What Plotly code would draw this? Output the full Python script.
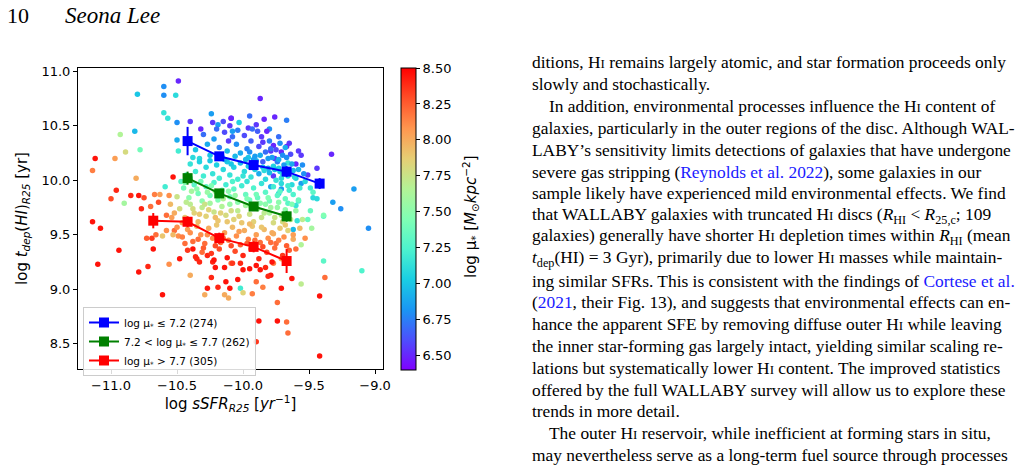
import plotly.graph_objects as go

# ---------------- data ----------------
# scatter galaxies: log sSFR_R25, log t_dep(HI)_R25, log mu_*
sc_x = [
    -10.49, -10.60, -10.60, -10.51, -10.80, -10.60, -10.57, -10.50, -10.40, -10.32, -10.24, -10.23, -10.19, -10.15, -10.09,
    -10.82, -10.93, -10.89, -10.78, -10.97, -11.12, -11.14, -10.81, -10.50, -10.49, -10.53, -10.96, -11.00, -10.90, -10.85,
    -10.79, -10.75, -10.67, -10.63, -10.59, -10.56, -10.70, -10.64, -10.77, -10.58,
    -11.14, -11.08, -10.94, -11.10, -10.79, -10.72, -10.61, -10.73, -10.69, -10.66, -10.61, -10.58, -10.52, -10.49, -10.53,
    -10.68, -10.48, -10.56, -10.40, -10.35, -10.38, -10.31, -10.27, -10.23, -10.21, -10.24, -10.27, -10.29, -10.19, -10.13,
    -10.14, -10.14, -10.11, -10.02, -10.00,
    -9.05, -9.56, -9.39, -9.10, -9.38, -9.63, -9.56, -9.71, -9.42, -9.74, -9.88, -9.74, -9.67, -9.66, -9.90, -9.42,
    -9.62, -9.59, -9.48, -9.51, -9.39, -9.79, -9.85, -9.81, -9.93, -10.04, -10.10, -10.00, -9.95, -9.87, -9.90, -10.09,
    -9.77, -9.71,
    -9.87, -10.09, -9.95, -9.84, -9.76, -9.67, -10.03, -9.90, -9.96, -9.89, -9.80, -10.08, -10.11, -9.85, -9.77, -9.72,
    -9.65, -9.67, -9.58, -9.71, -9.79, -9.56, -9.33, -9.66, -9.60, -9.55, -9.44, -9.51, -9.54, -9.60, -9.56, -9.63,
    -9.49, -9.47, -9.44, -9.47, -9.32, -9.26, -9.16, -9.60, -9.58, -9.49, -9.39, -9.66, -9.73, -9.71, -9.79, -9.77,
    -9.71, -9.81, -9.73, -9.76,
    # dense core
    -10.30, -10.27, -10.22, -10.18, -10.14, -10.12, -10.08, -10.05, -10.02, -9.99, -9.97, -9.94, -9.91, -9.88, -9.86,
    -9.83, -9.80, -9.78, -9.75, -9.73, -9.70, -9.68, -9.64, -10.25, -10.20, -10.10, -10.04, -9.93, -9.82, -9.96,
    -10.16, -9.90, -9.85, -9.74, -10.36, -10.33,
    -10.40, -10.36, -10.33, -10.30, -10.28, -10.25, -10.23, -10.20, -10.18, -10.15, -10.12, -10.10, -10.07, -10.04,
    -10.02, -9.99, -9.96, -9.94, -9.91, -9.88, -9.85, -9.83, -9.80, -9.77, -9.75, -9.72, -9.69, -9.66, -9.62, -10.43,
    -10.38, -10.14, -9.92,
    -10.45, -10.41, -10.37, -10.34, -10.31, -10.28, -10.25, -10.22, -10.19, -10.16, -10.13, -10.10, -10.07, -10.04,
    -10.01, -9.98, -9.95, -9.92, -9.89, -9.86, -9.83, -9.80, -9.77, -9.74, -9.71, -9.68, -9.65, -10.47, -10.39, -10.21,
    -9.97, -10.08,
    -10.48, -10.44, -10.40, -10.37, -10.34, -10.31, -10.28, -10.25, -10.22, -10.19, -10.16, -10.13, -10.10, -10.07,
    -10.04, -10.01, -9.98, -9.95, -9.92, -9.89, -9.86, -9.83, -9.80, -9.77, -9.74, -9.71, -9.68, -9.64, -10.52, -10.55,
    -10.46,
    -10.50, -10.46, -10.42, -10.38, -10.35, -10.32, -10.29, -10.26, -10.23, -10.20, -10.17, -10.14, -10.11, -10.08,
    -10.05, -10.02, -9.99, -9.96, -9.93, -9.90, -9.87, -9.84, -9.81, -9.78, -9.75, -9.72, -9.69, -9.66, -9.62,
    -10.42, -10.36, -10.30, -10.24, -10.18, -10.12, -10.06, -10.00, -9.94, -9.88, -9.82, -9.76, -9.70, -9.65, -9.90,
    -10.08, -9.78,
    # extra core galaxies
    -9.98, -9.95, -9.92, -9.87, -9.84, -9.81, -9.79, -9.76, -9.73, -9.70, -9.67, -9.63, -9.61, -9.58, -9.66, -9.72,
    -9.62, -9.57, -9.53, -10.06, -10.09, -10.00,
    -10.44, -10.40, -10.35, -10.32, -10.27, -10.24, -10.19, -10.15, -10.11, -10.06, -10.43, -10.38, -10.33, -10.29,
    -10.26, -10.21, -10.17, -10.12, -10.09, -10.03, -10.50, -10.54,
    -9.97, -9.94, -9.90, -9.87, -9.84, -9.81, -9.79, -9.76, -9.73, -9.70, -9.67, -9.63, -9.60, -9.58, -9.55, -9.95,
    -9.86, -9.77, -9.68, -9.62, -9.57, -9.53,
    -10.44, -10.40, -10.34, -10.27, -10.21, -10.15, -10.09, -10.03, -9.97, -9.91, -9.85, -9.79, -9.73, -9.67, -9.60,
    -10.33, -10.22, -10.02, -9.83,
]
sc_y = [
    10.91, 10.86, 10.78, 10.78, 10.79, 10.62, 10.57, 10.53, 10.54, 10.47, 10.61, 10.53, 10.51, 10.54, 10.57,
    10.45, 10.42, 10.26, 10.28, 10.20, 10.20, 10.09, 10.02, 10.37, 10.27, 10.03, 9.91, 9.83, 9.79, 9.86,
    9.86, 9.84, 9.87, 9.87, 9.94, 9.86, 9.76, 9.80, 9.74, 9.68,
    9.62, 9.56, 9.36, 9.23, 9.16, 9.21, 8.95, 9.47, 9.47, 9.50, 9.49, 9.54, 9.54, 9.49, 9.50,
    9.37, 9.28, 9.23, 9.13, 9.28, 9.37, 9.34, 9.31, 9.25, 9.20, 9.11, 9.01, 8.95, 9.02, 9.07,
    9.20, 8.95, 8.92, 9.01, 8.97,
    9.56, 9.41, 9.26, 9.17, 9.11, 9.10, 9.05, 9.01, 8.94, 8.88, 8.71, 8.71, 8.70, 8.60, 8.52, 8.39,
    9.55, 9.63, 9.56, 9.64, 9.67, 9.13, 9.02, 9.12, 8.96, 9.09, 9.01, 9.18, 9.19, 9.18, 9.07, 9.24,
    9.24, 9.28,
    10.75, 10.57, 10.59, 10.56, 10.58, 10.55, 10.53, 10.51, 10.48, 10.45, 10.47, 10.45, 10.36, 10.35, 10.32, 10.34,
    10.34, 10.31, 10.27, 10.26, 10.27, 10.23, 10.24, 10.16, 10.15, 10.14, 10.11, 10.05, 10.06, 10.02, 9.97, 9.96,
    9.93, 9.84, 9.83, 9.89, 9.80, 9.74, 9.92, 9.77, 9.81, 9.72, 9.68, 9.79, 9.88, 9.92, 9.94, 10.04,
    10.02, 10.11, 10.11, 10.20,
    # dense core
    10.42, 10.33, 10.38, 10.30, 10.44, 10.27, 10.40, 10.33, 10.25, 10.41, 10.29, 10.36, 10.22, 10.31, 10.40,
    10.26, 10.36, 10.21, 10.28, 10.40, 10.23, 10.30, 10.24, 10.23, 10.47, 10.50, 10.46, 10.47, 10.45, 10.21,
    10.22, 10.18, 10.17, 10.17, 10.28, 10.20,
    10.15, 10.08, 10.17, 10.04, 10.12, 10.18, 10.06, 10.14, 10.02, 10.10, 10.17, 10.05, 10.12, 10.01,
    10.16, 10.08, 10.13, 10.03, 10.10, 10.06, 10.12, 10.01, 10.07, 10.13, 10.00, 10.08, 10.14, 10.04, 10.09, 10.05,
    10.21, 10.19, 10.19,
    9.93, 9.84, 9.96, 9.88, 9.81, 9.94, 9.86, 9.98, 9.82, 9.91, 9.96, 9.85, 9.92, 9.80,
    9.95, 9.87, 9.82, 9.93, 9.84, 9.97, 9.89, 9.81, 9.94, 9.86, 9.97, 9.83, 9.91, 9.99, 9.90, 9.90,
    9.99, 9.99,
    9.74, 9.66, 9.78, 9.70, 9.62, 9.75, 9.67, 9.79, 9.71, 9.63, 9.76, 9.68, 9.78, 9.64,
    9.72, 9.61, 9.77, 9.69, 9.62, 9.74, 9.66, 9.78, 9.70, 9.61, 9.75, 9.68, 9.73, 9.64, 9.70, 9.78,
    9.61,
    9.57, 9.48, 9.55, 9.44, 9.58, 9.50, 9.42, 9.56, 9.47, 9.59, 9.43, 9.52, 9.45, 9.57,
    9.49, 9.41, 9.54, 9.46, 9.58, 9.50, 9.43, 9.55, 9.47, 9.52, 9.42, 9.56, 9.48, 9.54, 9.46,
    9.36, 9.30, 9.38, 9.33, 9.37, 9.29, 9.35, 9.31, 9.37, 9.28, 9.34, 9.38, 9.31, 9.36, 9.22,
    9.24, 9.25,
    # extra core galaxies
    10.19, 10.26, 10.12, 10.23, 10.09, 10.20, 10.29, 10.10, 10.19, 10.05, 10.21, 10.15, 10.03, 10.10, 9.95, 9.90,
    9.87, 9.93, 9.99, 10.22, 10.15, 10.04,
    9.98, 10.02, 9.92, 9.99, 9.89, 9.95, 9.87, 9.83, 9.90, 9.86, 9.80, 9.74, 9.69, 9.78,
    9.73, 9.66, 9.70, 9.62, 9.72, 9.67, 9.85, 9.66,
    9.83, 9.76, 9.87, 9.79, 9.70, 9.84, 9.75, 9.66, 9.80, 9.62, 9.69, 9.78, 9.72, 9.82, 9.64, 9.60,
    9.57, 9.51, 9.59, 9.50, 9.56, 9.47,
    9.42, 9.52, 9.46, 9.50, 9.40, 9.47, 9.40, 9.53, 9.42, 9.45, 9.39, 9.43, 9.45, 9.40, 9.37,
    9.25, 9.27, 9.24, 9.20,
]
sc_mu = [
    6.50, 6.80, 6.80, 7.10, 7.00, 7.15, 7.15, 6.80, 6.55, 6.50, 6.85, 6.55, 6.85, 6.60, 6.55,
    6.95, 7.65, 7.80, 7.40, 8.05, 8.45, 8.15, 8.00, 6.90, 7.20, 8.45, 8.40, 8.30, 7.60, 8.40,
    8.45, 8.30, 8.15, 8.05, 7.20, 8.10, 8.20, 8.30, 8.40, 8.20,
    8.45, 8.45, 8.45, 8.45, 8.45, 8.40, 8.45, 8.25, 8.35, 8.20, 7.90, 8.10, 8.20, 8.10, 7.95,
    8.45, 8.45, 8.10, 8.00, 8.40, 8.45, 8.20, 8.40, 8.40, 8.45, 8.40, 8.45, 8.00, 8.40, 8.45,
    8.45, 8.00, 8.00, 7.20, 7.85,
    6.80, 7.65, 7.30, 7.25, 8.20, 8.45, 7.70, 8.45, 8.45, 8.20, 8.45, 8.45, 8.20, 8.20, 8.35, 8.45,
    6.95, 7.15, 7.60, 7.35, 7.30, 8.45, 8.15, 8.40, 8.15, 8.45, 8.45, 8.45, 8.45, 8.45, 8.20, 8.20,
    8.15, 8.00,
    6.50, 6.50, 6.70, 6.50, 6.50, 6.75, 7.05, 6.55, 6.55, 6.65, 6.80, 6.85, 6.55, 6.55, 6.50, 6.80,
    6.55, 6.50, 6.55, 6.50, 6.55, 6.55, 6.50, 7.15, 6.50, 6.80, 6.55, 6.55, 6.80, 7.05, 6.85, 7.10,
    7.20, 7.10, 7.10, 7.30, 6.85, 6.80, 6.85, 7.15, 7.20, 7.35, 7.45, 7.30, 7.10, 6.85, 6.90, 6.55,
    7.10, 6.85, 7.05, 6.55,
    # dense core
    6.70, 6.90, 6.85, 6.75, 6.60, 6.95, 6.70, 6.80, 6.90, 6.60, 6.75, 6.65, 6.85, 6.60, 6.55,
    6.70, 6.75, 6.85, 6.60, 6.70, 6.80, 6.90, 6.60, 7.00, 6.70, 6.55, 6.75, 6.70, 6.50, 7.00,
    7.05, 6.90, 6.65, 6.75, 7.00, 7.10,
    7.15, 7.20, 7.05, 7.20, 7.10, 7.00, 7.15, 7.05, 7.20, 7.10, 7.00, 7.15, 7.05, 7.20,
    6.95, 7.10, 7.00, 7.15, 7.05, 6.90, 7.00, 7.10, 6.95, 7.05, 7.15, 7.00, 6.85, 7.10, 6.95, 7.25,
    7.10, 6.90, 6.85,
    7.40, 7.50, 7.30, 7.40, 7.50, 7.30, 7.40, 7.25, 7.45, 7.35, 7.20, 7.40, 7.30, 7.50,
    7.20, 7.35, 7.40, 7.25, 7.35, 7.15, 7.30, 7.40, 7.20, 7.30, 7.10, 7.35, 7.20, 7.30, 7.60, 7.60,
    7.15, 7.25,
    7.80, 7.90, 7.70, 7.85, 7.95, 7.70, 7.85, 7.60, 7.75, 7.90, 7.65, 7.80, 7.55, 7.85,
    7.70, 7.90, 7.60, 7.75, 7.85, 7.60, 7.75, 7.50, 7.65, 7.80, 7.55, 7.70, 7.50, 7.70, 8.00, 7.95,
    8.05,
    8.10, 8.15, 8.05, 8.20, 7.95, 8.10, 8.20, 8.00, 8.10, 7.90, 8.20, 8.05, 8.15, 7.95,
    8.10, 8.25, 8.00, 8.15, 7.90, 8.05, 8.20, 7.95, 8.10, 8.00, 8.20, 7.90, 8.10, 7.85, 8.00,
    8.35, 8.40, 8.25, 8.35, 8.30, 8.45, 8.30, 8.40, 8.25, 8.40, 8.30, 8.20, 8.35, 8.25, 8.45,
    8.35, 8.45,
    # extra core galaxies
    6.95, 6.80, 7.05, 6.90, 7.10, 6.85, 6.70, 7.00, 6.90, 7.15, 6.80, 6.90, 7.10, 6.95, 7.20, 7.30,
    7.25, 7.20, 7.10, 6.95, 7.00, 7.15,
    7.45, 7.35, 7.50, 7.40, 7.55, 7.45, 7.60, 7.65, 7.50, 7.55, 7.70, 7.80, 7.90, 7.75,
    7.85, 7.95, 7.85, 7.90, 7.80, 7.85, 7.75, 8.05,
    7.45, 7.55, 7.40, 7.50, 7.70, 7.45, 7.60, 7.75, 7.50, 7.80, 7.65, 7.45, 7.55, 7.35, 7.70, 7.95,
    7.90, 8.00, 7.90, 8.05, 7.95, 8.10,
    8.20, 8.10, 8.20, 8.10, 8.30, 8.20, 8.30, 8.05, 8.25, 8.20, 8.30, 8.20, 8.15, 8.25, 8.20,
    8.40, 8.45, 8.40, 8.40,
]

# binned medians
bin_names = ["log μ<sub>*</sub> ≤ 7.2 (274)",
             "7.2 &lt; log μ<sub>*</sub> ≤ 7.7 (262)",
             "log μ<sub>*</sub> &gt; 7.7 (305)"]
bin_colors = ["#0000ff", "#008000", "#ff0000"]
low_x = [-10.42, -10.18, -9.92, -9.67, -9.42]
low_y = [10.36, 10.22, 10.14, 10.08, 9.97]
low_err = [0.13, 0.04, 0.04, 0.05, 0.05]
mid_x = [-10.42, -10.18, -9.92, -9.67]
mid_y = [10.02, 9.88, 9.76, 9.67]
mid_err = [0.06, 0.04, 0.04, 0.05]
high_x = [-10.68, -10.42, -10.18, -9.92, -9.67]
high_y = [9.63, 9.62, 9.47, 9.39, 9.26]
high_err = [0.07, 0.05, 0.05, 0.05, 0.11]

x_ticks = [-11.0, -10.5, -10.0, -9.5, -9.0]
y_ticks = [8.5, 9.0, 9.5, 10.0, 10.5, 11.0]
cb_ticks = [6.50, 6.75, 7.00, 7.25, 7.50, 7.75, 8.00, 8.25, 8.50]

# matplotlib "rainbow"
rainbow = [
    [0.0, "rgb(128,0,255)"], [0.1, "rgb(77,79,252)"], [0.2, "rgb(26,150,243)"],
    [0.3, "rgb(26,206,227)"], [0.4, "rgb(77,243,206)"], [0.5, "rgb(128,255,180)"],
    [0.6, "rgb(179,243,150)"], [0.7, "rgb(230,206,116)"], [0.8, "rgb(255,150,79)"],
    [0.9, "rgb(255,79,40)"], [1.0, "rgb(255,0,0)"],
]

# ---------------- layout geometry (pixels) ----------------
W, H = 1024, 467
L, R, T, B = 78, 383, 68, 369


def px(x):
    return (x - L) / (R - L)


def py(y):
    return (B - y) / (B - T)


fig = go.Figure()

fig.add_trace(go.Scatter(
    x=sc_x, y=sc_y, mode="markers", showlegend=False,
    marker=dict(size=5.5, color=sc_mu, colorscale=rainbow, cmin=6.40, cmax=8.50,
                line=dict(width=0),
                colorbar=dict(
                    x=px(401), xanchor="left", y=py(68), yanchor="top",
                    xpad=0, ypad=0,
                    thickness=15, thicknessmode="pixels",
                    len=302, lenmode="pixels",
                    outlinecolor="black", outlinewidth=1,
                    tickvals=cb_ticks, ticktext=[f"{v:.2f}" for v in cb_ticks],
                    ticks="outside", ticklen=4, tickcolor="black",
                    tickfont=dict(family="DejaVu Sans", size=13, color="black"),
                )),
))

for name, col, bx, by, be in [
    (bin_names[0], bin_colors[0], low_x, low_y, low_err),
    (bin_names[1], bin_colors[1], mid_x, mid_y, mid_err),
    (bin_names[2], bin_colors[2], high_x, high_y, high_err),
]:
    fig.add_trace(go.Scatter(
        x=bx, y=by, name=name, mode="lines+markers",
        line=dict(color=col, width=2),
        marker=dict(symbol="square", size=10, color=col),
        error_y=dict(type="data", array=be, color=col, thickness=2, width=0),
        error_x=dict(type="constant", value=0.025, color=col, thickness=2, width=0),
    ))

axis_common = dict(showline=True, linecolor="black", linewidth=1, mirror=True,
                   ticks="outside", ticklen=4, tickcolor="black", showgrid=False,
                   zeroline=False,
                   tickfont=dict(family="DejaVu Sans", size=13, color="black"))

fig.update_xaxes(range=[-11.25, -8.94], tickvals=x_ticks,
                 ticktext=["−11.0", "−10.5", "−10.0", "−9.5", "−9.0"],
                 title=dict(text="log <i>sSFR</i><sub><i>R25</i></sub> [<i>yr</i><sup>−1</sup>]",
                            font=dict(family="DejaVu Sans", size=15, color="black"),
                            standoff=6),
                 **axis_common)
fig.update_yaxes(range=[8.27, 11.03], tickvals=y_ticks,
                 ticktext=[f"{v:.1f}" for v in y_ticks],
                 title=dict(text="log <i>t</i><sub><i>dep</i></sub>(<i>HI</i>)<sub><i>R25</i></sub> [yr]",
                            font=dict(family="DejaVu Sans", size=15, color="black"),
                            standoff=10),
                 **axis_common)

fig.update_layout(
    width=W, height=H, autosize=False,
    margin=dict(l=L, r=W - R, t=T, b=H - B, pad=0),
    plot_bgcolor="white", paper_bgcolor="white",
    font=dict(family="DejaVu Sans", color="black"),
    legend=dict(x=px(83), y=py(307), xanchor="left", yanchor="top",
                bgcolor="rgba(255,255,255,0.85)", bordercolor="#cccccc", borderwidth=1,
                font=dict(family="DejaVu Sans", size=10.5, color="black"),
                tracegroupgap=0, itemwidth=30),
)

# ---------------- page text ----------------
serif = "Liberation Serif"
HI = "H<span style='font-size:13px'>I</span>"
BL = "<span style='color:#1a1aff'>"
E = "</span>"
page_lines = [
    (530, f"ditions, {HI} remains largely atomic, and star formation proceeds only"),
    (530, "slowly and stochastically."),
    (547, f"In addition, environmental processes influence the {HI} content of"),
    (530, "galaxies, particularly in the outer regions of the disc. Although WAL-"),
    (530, "LABY’s sensitivity limits detections of galaxies that have undergone"),
    (530, f"severe gas stripping ({BL}Reynolds et al. 2022{E}), some galaxies in our"),
    (530, "sample likely have experienced mild environmental effects. We find"),
    (530, f"that WALLABY galaxies with truncated {HI} discs (<i>R</i><sub>HI</sub> &lt; <i>R</i><sub>25,c</sub>; 109"),
    (530, f"galaxies) generally have shorter {HI} depletion times within <i>R</i><sub>HI</sub> (mean"),
    (530, f"<i>t</i><sub>dep</sub>(HI) = 3 Gyr), primarily due to lower {HI} masses while maintain-"),
    (530, f"ing similar SFRs. This is consistent with the findings of {BL}Cortese et al.{E}"),
    (530, f"({BL}2021{E}, their Fig. 13), and suggests that environmental effects can en-"),
    (530, f"hance the apparent SFE by removing diffuse outer {HI} while leaving"),
    (530, "the inner star-forming gas largely intact, yielding similar scaling re-"),
    (530, f"lations but systematically lower {HI} content. The improved statistics"),
    (530, "offered by the full WALLABY survey will allow us to explore these"),
    (530, "trends in more detail."),
    (547, f"The outer {HI} reservoir, while inefficient at forming stars in situ,"),
    (530, "may nevertheless serve as a long-term fuel source through processes"),
]
annotations = []
for i, (xl, txt) in enumerate(page_lines):
    annotations.append(dict(x=px(xl), y=py(62.5 + 21.8 * i), xref="paper", yref="paper",
                            xanchor="left", yanchor="middle", showarrow=False, text=txt,
                            font=dict(family=serif, size=17.4, color="black")))
annotations.append(dict(x=px(5), y=py(16), xref="paper", yref="paper", xanchor="left",
                        yanchor="middle", showarrow=False, text="10",
                        font=dict(family=serif, size=22, color="black")))
annotations.append(dict(x=px(63), y=py(16), xref="paper", yref="paper", xanchor="left",
                        yanchor="middle", showarrow=False, text="<i>Seona Lee</i>",
                        font=dict(family=serif, size=23, color="black")))
# colorbar label
annotations.append(dict(x=px(470), y=py(217), xref="paper", yref="paper", xanchor="center",
                        yanchor="middle", showarrow=False, textangle=-90,
                        text="log μ<sub>*</sub> [<i>M</i><sub>⊙</sub><i>kpc</i><sup>−2</sup>]",
                        font=dict(family="DejaVu Sans", size=15, color="black")))
fig.update_layout(annotations=annotations)

fig.write_html("out.html")
